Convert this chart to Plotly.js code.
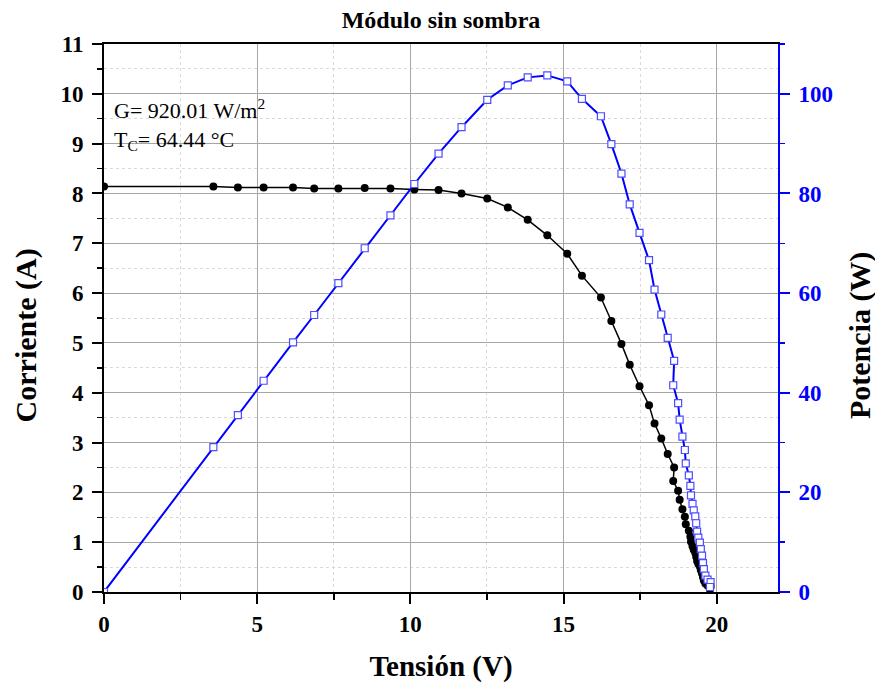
<!DOCTYPE html>
<html>
<head>
<meta charset="utf-8">
<script src="https://cdn.plot.ly/plotly-3.0.1.min.js"></script>
<style>html,body{margin:0;padding:0;background:#fff;}#chart{width:875px;height:685px;}</style>
</head>
<body>
<div id="chart"></div>
<script>
// Voltage (V)
const tension = [0.00, 3.57, 4.37, 5.21, 6.17, 6.86, 7.65, 8.51, 9.35, 10.13, 10.92, 11.67, 12.51, 13.18, 13.83, 14.47,
  15.12, 15.60, 16.22, 16.56, 16.89, 17.16, 17.48, 17.79, 17.97, 18.19,
  18.40, 18.61, 18.58, 18.74, 18.79, 18.88, 18.96, 18.99, 19.09, 19.14, 19.16, 19.21, 19.25, 19.30, 19.33, 19.36,
  19.40, 19.45, 19.48, 19.52, 19.55, 19.58, 19.63, 19.70, 19.80, 19.78];
// Current (A)
const corriente = [8.14, 8.14, 8.12, 8.12, 8.12, 8.10, 8.10, 8.11, 8.10, 8.08, 8.07, 8.00, 7.90, 7.72, 7.47, 7.16,
  6.79, 6.35, 5.91, 5.44, 4.98, 4.56, 4.13, 3.75, 3.38, 3.08,
  2.77, 2.50, 2.23, 2.03, 1.85, 1.66, 1.51, 1.36, 1.23, 1.11, 1.01, 0.92, 0.85, 0.79, 0.71, 0.62,
  0.56, 0.51, 0.44, 0.37, 0.30, 0.23, 0.17, 0.13, 0.10, 0.05];
// Power (W)
const potencia = [0.0, 29.1, 35.5, 42.4, 50.1, 55.6, 62.0, 69.0, 75.6, 81.9, 88.0, 93.3, 98.8, 101.7, 103.3, 103.7,
  102.5, 99.0, 95.5, 89.9, 84.0, 77.8, 72.1, 66.6, 60.7, 55.7,
  51.0, 46.4, 41.5, 37.9, 34.6, 31.2, 28.5, 25.8, 23.4, 21.3, 19.4, 17.7, 16.4, 15.2, 13.8, 12.1,
  10.9, 9.9, 8.6, 7.3, 5.8, 4.6, 3.3, 2.5, 2.0, 1.0];

const chartTitle = 'Módulo sin sombra';
const xTitle = 'Tensión (V)';
const yTitle = 'Corriente (A)';
const y2Title = 'Potencia (W)';
const infoText = 'G= 920.01 W/m<sup>2</sup><br>T<sub>C</sub>= 64.44 °C';

const serif = 'Liberation Serif, Times New Roman, serif';
const tickFont = {family: serif, size: 23, color: '#000', weight: 'bold'};
const axTitleFont = {family: serif, size: 30, color: '#000', weight: 'bold'};

const traces = [
  {
    x: tension, y: corriente, type: 'scatter', mode: 'lines+markers',
    line: {color: '#000', width: 1.5},
    marker: {symbol: 'circle', size: 8, color: '#000'},
    yaxis: 'y', hoverinfo: 'skip'
  },
  {
    x: tension, y: potencia, type: 'scatter', mode: 'lines+markers',
    line: {color: '#0000ff', width: 2},
    marker: {symbol: 'square', size: 7, color: '#ffffff', line: {color: '#4d4dff', width: 1.2}},
    yaxis: 'y2', hoverinfo: 'skip'
  }
];

const layout = {
  width: 875, height: 685,
  margin: {l: 104, r: 97, t: 44, b: 93},
  paper_bgcolor: '#fff', plot_bgcolor: '#fff',
  showlegend: false,
  title: {text: chartTitle, font: {family: serif, size: 24, color: '#000', weight: 'bold'},
          x: 0.5, xref: 'paper', y: 0.972, yanchor: 'middle'},
  xaxis: {
    range: [0, 22], dtick: 5, tick0: 0,
    showline: true, linecolor: '#000', linewidth: 2, mirror: true,
    ticks: 'outside', ticklen: 10, tickwidth: 2, tickcolor: '#000',
    showgrid: true, gridcolor: '#a6a6a6', gridwidth: 1,
    zeroline: false,
    tickfont: tickFont,
    ticklabelstandoff: 0,
    minor: {dtick: 2.5, ticks: 'outside', ticklen: 6, tickwidth: 1.5, tickcolor: '#000',
            showgrid: true, gridcolor: '#d9d9d9', griddash: 'dot', gridwidth: 1},
    title: {text: xTitle, font: {family: serif, size: 29, color: '#000', weight: 'bold'}, standoff: 20}
  },
  yaxis: {
    range: [0, 11], dtick: 1, tick0: 0,
    showline: true, linecolor: '#000', linewidth: 2,
    ticks: 'outside', ticklen: 10, tickwidth: 2, tickcolor: '#000',
    showgrid: true, gridcolor: '#a6a6a6', gridwidth: 1,
    zeroline: false,
    tickfont: tickFont,
    ticklabelstandoff: 4,
    minor: {dtick: 0.5, ticks: 'outside', ticklen: 5, tickwidth: 1.5, tickcolor: '#000',
            showgrid: true, gridcolor: '#d9d9d9', griddash: 'dot', gridwidth: 1}
  },
  yaxis2: {
    overlaying: 'y', side: 'right',
    range: [0, 110], dtick: 20, tick0: 0,
    showline: true, linecolor: '#0000ff', linewidth: 2,
    ticks: 'outside', ticklen: 10, tickwidth: 2, tickcolor: '#0000ff',
    showgrid: false, zeroline: false,
    tickfont: {family: serif, size: 23, color: '#0000ff', weight: 'bold'},
    ticklabelstandoff: 4,
    minor: {dtick: 10, ticks: 'outside', ticklen: 5, tickwidth: 1.5, tickcolor: '#0000ff', showgrid: false}
  },
  annotations: [
    {text: infoText, xref: 'paper', yref: 'paper', x: 0.012, y: 0.91, xanchor: 'left', yanchor: 'top',
     align: 'left', showarrow: false, font: {family: serif, size: 22, color: '#000'}},
    {text: yTitle, xref: 'paper', yref: 'paper', x: -0.1159, y: 0.468, xanchor: 'center', yanchor: 'middle',
     textangle: -90, showarrow: false, font: axTitleFont},
    {text: y2Title, xref: 'paper', yref: 'paper', x: 1.121, y: 0.468, xanchor: 'center', yanchor: 'middle',
     textangle: -90, showarrow: false, font: axTitleFont}
  ]
};

Plotly.newPlot('chart', traces, layout, {staticPlot: true, displayModeBar: false});
</script>
</body>
</html>
